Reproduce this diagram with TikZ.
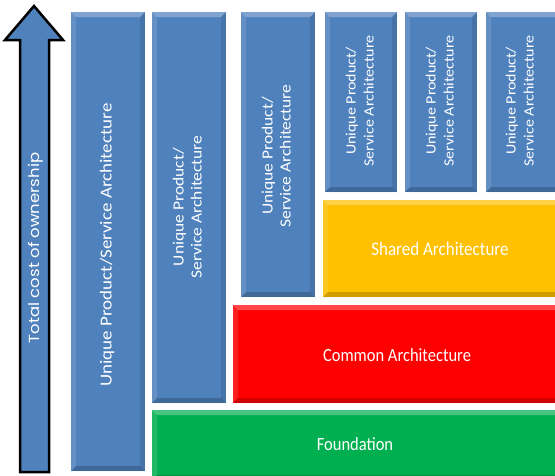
\documentclass[tikz,border=0pt]{standalone}
\usepackage{fontspec}
\usepackage{graphicx}
\setmainfont{Carlito}
\newfontfamily\tcofont{Poppins}
\definecolor{ublue}{HTML}{4F81BD}
\definecolor{uyellow}{HTML}{FFC000}
\definecolor{ured}{HTML}{FF0000}
\definecolor{ugreen}{HTML}{00B050}
\newcommand\bevelpp{%
  \fill[white,opacity=.28] (path picture bounding box.north west) -- (path picture bounding box.north east)
     -- ([xshift=-5pt,yshift=-5pt]path picture bounding box.north east) -- ([xshift=5pt,yshift=-5pt]path picture bounding box.north west) -- cycle;
  \fill[white,opacity=.12] (path picture bounding box.north west) -- (path picture bounding box.south west)
     -- ([xshift=5pt,yshift=5pt]path picture bounding box.south west) -- ([xshift=5pt,yshift=-5pt]path picture bounding box.north west) -- cycle;
  \fill[black,opacity=.18] (path picture bounding box.south west) -- (path picture bounding box.south east)
     -- ([xshift=-5pt,yshift=5pt]path picture bounding box.south east) -- ([xshift=5pt,yshift=5pt]path picture bounding box.south west) -- cycle;
  \fill[black,opacity=.10] (path picture bounding box.north east) -- (path picture bounding box.south east)
     -- ([xshift=-5pt,yshift=5pt]path picture bounding box.south east) -- ([xshift=-5pt,yshift=-5pt]path picture bounding box.north east) -- cycle;
}
\newcommand\vlab[2]{\scalebox{1}[0.885]{\fontsize{#1}{20.3}\selectfont\begin{tabular}{@{}c@{}}#2\end{tabular}}}
\newcommand\hlab[2]{\scalebox{1}[1.13]{\fontsize{#1}{19}\selectfont #2}}
\tikzset{
  blk/.style={rectangle, inner sep=0pt, outer sep=0pt, anchor=north west, fill=#1, path picture={\bevelpp}},
  vtxt/.style={rotate=90, text=white, inner sep=0pt},
  htxt/.style={text=white, inner sep=0pt},
  arrowsty/.style={fill=ublue, draw=black, line width=2.5pt, line join=miter},
}
\begin{document}
\begin{tikzpicture}[x=1pt,y=-1pt]
\useasboundingbox (0,0) rectangle (555,475);
% arrow
\draw[arrowsty] (20,472) -- (20,40) -- (5,40) -- (34,6) -- (63,40) -- (49,40) -- (49,472) -- cycle;
\node[vtxt] (tco) at (35.5,248) {\scalebox{1}[0.885]{\fontsize{16.5}{18}\selectfont\tcofont Total cost of ownership}};
% columns
\node[blk=ublue, minimum width=74pt, minimum height=459pt] (c1) at (71,12) {};
\node[blk=ublue, minimum width=74pt, minimum height=391pt] (c2) at (152,12) {};
\node[blk=ublue, minimum width=74pt, minimum height=285pt] (c3) at (241,12) {};
\node[blk=ublue, minimum width=72pt, minimum height=180pt] (c4) at (325,12) {};
\node[blk=ublue, minimum width=72pt, minimum height=180pt] (c5) at (405,12) {};
\node[blk=ublue, minimum width=80pt, minimum height=180pt] (c6) at (486,12) {};
% layers
\node[blk=uyellow, minimum width=240pt, minimum height=97pt] (shared) at (323,200) {};
\node[blk=ured, minimum width=330pt, minimum height=98pt] (common) at (233,305) {};
\node[blk=ugreen, minimum width=410pt, minimum height=70pt] (found) at (152,410) {};
% labels
\node[vtxt] (t1) at (108,245) {\vlab{19}{Unique Product/Service Architecture}};
\node[vtxt] (t2) at (189,207) {\vlab{17.5}{Unique Product/\\Service Architecture}};
\node[vtxt] (t3) at (278,156) {\vlab{17.5}{Unique Product/\\Service Architecture}};
\node[vtxt] (t4) at (361,101) {\vlab{16}{Unique Product/\\Service Architecture}};
\node[vtxt] (t5) at (441,101) {\vlab{16}{Unique Product/\\Service Architecture}};
\node[vtxt] (t6) at (521,101) {\vlab{16}{Unique Product/\\Service Architecture}};
\node[htxt] (ts) at (440,249) {\hlab{17}{Shared Architecture}};
\node[htxt] (tc) at (397,355) {\hlab{16.5}{Common Architecture}};
\node[htxt] (tf) at (355,444) {\hlab{16.5}{Foundation}};
\end{tikzpicture}
\end{document}
